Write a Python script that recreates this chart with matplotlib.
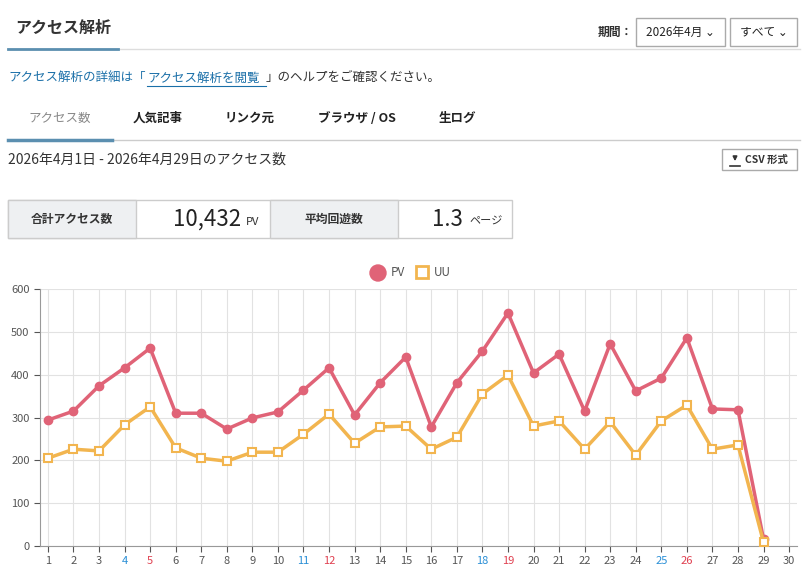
import matplotlib.pyplot as plt
from matplotlib.patches import Rectangle, Circle

plt.rcParams['font.family'] = ['Noto Sans CJK JP', 'DejaVu Sans']

days = list(range(1, 30))
pv = [294, 315, 374, 416, 462, 310, 310, 273, 299, 313, 364, 416, 306, 381, 441,
      278, 381, 455, 544, 404, 448, 315, 472, 362, 392, 486, 320, 318, 16]
uu = [205, 226, 222, 283, 325, 229, 205, 198, 219, 219, 261, 308, 240, 278, 280,
      226, 254, 355, 399, 280, 292, 226, 290, 212, 292, 329, 226, 236, 9]
xticks = list(range(1, 31))
saturdays = [4, 11, 18, 25]
sundays = [5, 12, 19, 26]
tabs = ['アクセス数', '人気記事', 'リンク元', 'ブラウザ / OS', '生ログ']
tab_x = [60, 158, 250, 357, 457]

PV_C = '#e06377'
UU_C = '#f2b54f'
W, H = 809, 581

fig = plt.figure(figsize=(W / 100, H / 100), dpi=100)
ui = fig.add_axes([0, 0, 1, 1])
ui.set_xlim(0, W)
ui.set_ylim(H, 0)
ui.axis('off')

# header
ui.text(15, 28, 'アクセス解析', fontsize=11.5, fontweight='bold', color='#333', va='center')
ui.plot([8, 800], [49, 49], color='#ddd', lw=1)
ui.plot([8, 118], [49, 49], color='#5b8fb0', lw=2)
ui.text(598, 32, '期間：', fontsize=8.5, fontweight='bold', color='#333', va='center')
for x0, w, label in [(636, 89, '2026年4月 ⌄'), (730, 67, 'すべて ⌄')]:
    ui.add_patch(Rectangle((x0, 18), w, 28, fc='white', ec='#aaa', lw=1))
    ui.text(x0 + w / 2, 32, label, fontsize=8.5, color='#222', ha='center', va='center')

ui.text(8, 78, 'アクセス解析の詳細は「', fontsize=9, color='#1a6fa8', va='center')
ui.text(147, 78, 'アクセス解析を閲覧', fontsize=9, color='#1a6fa8', va='center')
ui.plot([147, 266], [86, 86], color='#1a6fa8', lw=0.8)
ui.text(266, 78, '」のヘルプをご確認ください。', fontsize=9, color='#333', va='center')

# tabs
for i, (t, x) in enumerate(zip(tabs, tab_x)):
    ui.text(x, 118, t, fontsize=9, fontweight='bold' if i else 'normal',
            color='#888' if i == 0 else '#222', ha='center', va='center')
ui.plot([8, 800], [140, 140], color='#ccc', lw=1)
ui.plot([8, 112], [140, 140], color='#5b8fb0', lw=2.5)

ui.text(8, 160, '2026年4月1日 - 2026年4月29日のアクセス数', fontsize=10, color='#333', va='center')
ui.add_patch(Rectangle((722, 149), 75, 21, fc='white', ec='#aaa', lw=1))
ui.annotate('', xy=(735, 164), xytext=(735, 154),
            arrowprops=dict(arrowstyle='-|>', color='#333', lw=1.2, mutation_scale=6))
ui.plot([730, 740], [166, 166], color='#333', lw=1.2)
ui.text(745, 160, 'CSV 形式', fontsize=7.5, fontweight='bold', color='#333', va='center')

# summary boxes
ui.add_patch(Rectangle((8, 200), 504, 38, fc='white', ec='#ccc', lw=1))
for x0 in (8, 270):
    ui.add_patch(Rectangle((x0, 200), 128, 38, fc='#eef0f2', ec='#ccc', lw=1))
ui.text(72, 219, '合計アクセス数', fontsize=8.5, fontweight='bold', color='#333', ha='center', va='center')
ui.text(334, 219, '平均回遊数', fontsize=8.5, fontweight='bold', color='#333', ha='center', va='center')
ui.text(241, 219, '10,432', fontsize=16, color='#222', ha='right', va='center')
ui.text(246, 222, 'PV', fontsize=8, color='#333', va='center')
ui.text(463, 219, '1.3', fontsize=16, color='#222', ha='right', va='center')
ui.text(469, 222, 'ページ', fontsize=8, color='#333', va='center')

# legend
ui.add_patch(Circle((378, 273), 8, fc=PV_C, ec=PV_C))
ui.text(391, 273, 'PV', fontsize=8.5, color='#555', va='center')
ui.add_patch(Rectangle((416, 266), 12, 12, fc='white', ec=UU_C, lw=2))
ui.text(434, 273, 'UU', fontsize=8.5, color='#555', va='center')

# chart
ax = fig.add_axes([40 / W, (H - 546) / H, 757 / W, 257 / H])
ax.plot(days, pv, color=PV_C, lw=2.5, marker='o', ms=6, zorder=3)
ax.plot(days, uu, color=UU_C, lw=2.5, marker='s', ms=6, mfc='white', mec=UU_C, mew=1.5, zorder=3)
ax.set_xlim(0.69, 30.31)
ax.set_ylim(0, 600)
ax.set_yticks(range(0, 601, 100))
ax.set_xticks(xticks)
ax.grid(True, color='#e2e2e2', lw=0.8)
ax.tick_params(labelsize=8, colors='#555', length=4)
for lab, d in zip(ax.get_xticklabels(), xticks):
    if d in saturdays:
        lab.set_color('#2a8fd6')
    elif d in sundays:
        lab.set_color('#e04050')
for s in ('top', 'right'):
    ax.spines[s].set_visible(False)
for s in ('left', 'bottom'):
    ax.spines[s].set_color('#999')

fig.savefig('out.png', dpi=100)
